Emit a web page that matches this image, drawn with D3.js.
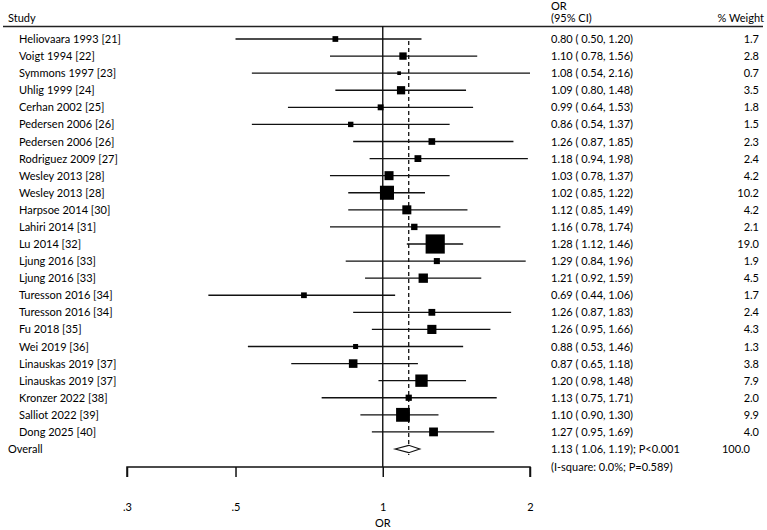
<!DOCTYPE html>
<html><head><meta charset="utf-8">
<script src="https://cdn.jsdelivr.net/npm/d3@7"></script>
<style>body{margin:0;background:#fff}svg text{font-family:Lato,"Open Sans",sans-serif;font-size:11px;fill:#000}</style>
</head><body><svg id="c" width="767" height="530"></svg>
<script>
const studies = ["Heliovaara 1993 [21]","Voigt 1994 [22]","Symmons 1997 [23]","Uhlig 1999 [24]","Cerhan 2002 [25]","Pedersen 2006 [26]","Pedersen 2006 [26]","Rodriguez 2009 [27]","Wesley 2013 [28]","Wesley 2013 [28]","Harpsoe 2014 [30]","Lahiri 2014 [31]","Lu 2014 [32]","Ljung 2016 [33]","Ljung 2016 [33]","Turesson 2016 [34]","Turesson 2016 [34]","Fu 2018 [35]","Wei 2019 [36]","Linauskas 2019 [37]","Linauskas 2019 [37]","Kronzer 2022 [38]","Salliot 2022 [39]","Dong 2025 [40]"];
const orValues = [0.80,1.10,1.08,1.09,0.99,0.86,1.26,1.18,1.03,1.02,1.12,1.16,1.28,1.29,1.21,0.69,1.26,1.26,0.88,0.87,1.20,1.13,1.10,1.27];
const ciLow = [0.50,0.78,0.54,0.80,0.64,0.54,0.87,0.94,0.78,0.85,0.85,0.78,1.12,0.84,0.92,0.44,0.87,0.95,0.53,0.65,0.98,0.75,0.90,0.95];
const ciHigh = [1.20,1.56,2.16,1.48,1.53,1.37,1.85,1.98,1.37,1.22,1.49,1.74,1.46,1.96,1.59,1.06,1.83,1.66,1.46,1.18,1.48,1.71,1.30,1.69];
const weights = [1.7,2.8,0.7,3.5,1.8,1.5,2.3,2.4,4.2,10.2,4.2,2.1,19.0,1.9,4.5,1.7,2.4,4.3,1.3,3.8,7.9,2.0,9.9,4.0];
const overall = {or:1.13, lo:1.06, hi:1.19, p:"P<0.001", i2:"0.0%", pHet:"0.589", weight:100.0};
const tickValues = [0.3,0.5,1,2];
const tickLabels = [".3",".5","1","2"];

const svg = d3.select("#c");
const x = d3.scaleLog().domain([0.3,2]).range([127,530]).clamp(true);
const y = d3.scaleLinear().domain([0,24]).range([39,449]);
const f2 = d3.format(".2f"), f1 = d3.format(".1f");
const rows = studies.map((s,i)=>({s,or:orValues[i],lo:ciLow[i],hi:ciHigh[i],w:weights[i],i}));

// header
svg.append("text").attr("x",8).attr("y",22).text("Study");
svg.append("text").attr("x",551).attr("y",10).text("OR");
svg.append("text").attr("x",551).attr("y",22).text("(95% CI)");
svg.append("text").attr("x",764).attr("y",22).attr("text-anchor","end").text("% Weight");
svg.append("line").attr("x1",3).attr("x2",763).attr("y1",26.5).attr("y2",26.5).attr("stroke","#222").attr("stroke-width",1.5);

// reference lines
svg.append("line").attr("x1",x(1)).attr("x2",x(1)).attr("y1",26).attr("y2",467).attr("stroke","#111").attr("stroke-width",1.4);
svg.append("line").attr("x1",x(overall.or)).attr("x2",x(overall.or)).attr("y1",41).attr("y2",455)
  .attr("stroke","#111").attr("stroke-width",1.3).attr("stroke-dasharray","4,3");

// CIs & squares
const g = svg.append("g");
g.selectAll("line.ci").data(rows).join("line").attr("class","ci")
  .attr("x1",d=>x(d.lo)).attr("x2",d=>x(d.hi)).attr("y1",d=>y(d.i)).attr("y2",d=>y(d.i))
  .attr("stroke","#111").attr("stroke-width",1.3);
const k = 4.4;
g.selectAll("rect").data(rows).join("rect")
  .attr("x",d=>x(d.or)-k*Math.sqrt(d.w)/2).attr("y",d=>y(d.i)-k*Math.sqrt(d.w)/2)
  .attr("width",d=>k*Math.sqrt(d.w)).attr("height",d=>k*Math.sqrt(d.w)).attr("fill","#000");

// labels
svg.selectAll("text.st").data(rows).join("text").attr("class","st")
  .attr("x",19).attr("y",d=>y(d.i)+4).text(d=>d.s);
svg.selectAll("text.orv").data(rows).join("text").attr("class","orv")
  .attr("x",551).attr("y",d=>y(d.i)+4).text(d=>`${f2(d.or)} ( ${f2(d.lo)}, ${f2(d.hi)})`);
svg.selectAll("text.wt").data(rows).join("text").attr("class","wt")
  .attr("x",759).attr("y",d=>y(d.i)+4).attr("text-anchor","end").text(d=>f1(d.w));

// overall
const yo = y(24);
svg.append("text").attr("x",8).attr("y",yo+4).text("Overall");
svg.append("path").attr("d",`M${x(overall.lo)},${yo} L${x(overall.or)},${yo-3.7} L${x(overall.hi)},${yo} L${x(overall.or)},${yo+3.7} Z`)
  .attr("fill","#fff").attr("stroke","#111").attr("stroke-width",1.2);
svg.append("text").attr("x",551).attr("y",yo+4).text(`${f2(overall.or)} ( ${f2(overall.lo)}, ${f2(overall.hi)}); ${overall.p}`);
svg.append("text").attr("x",551).attr("y",yo+22).text(`(I-square: ${overall.i2}; P=${overall.pHet})`);
svg.append("text").attr("x",750).attr("y",yo+4).attr("text-anchor","end").text(f1(overall.weight));

// axis
const axis = d3.axisBottom(x).tickValues(tickValues).tickFormat((d,i)=>tickLabels[i]).tickSize(10).tickPadding(26);
const ga = svg.append("g").attr("transform","translate(0,467)").call(axis);
ga.select(".domain").attr("d",`M${x(0.3)},10V0H${x(2)}V10`).attr("stroke","#111").attr("stroke-width",1.5);
ga.selectAll(".tick line").attr("stroke","#111").attr("stroke-width",1.5);
ga.selectAll(".tick text").attr("font-size",11).attr("font-family","Lato").attr("fill","#000");
svg.append("text").attr("x",x(1)).attr("y",527).attr("text-anchor","middle").text("OR");
</script></body></html>
